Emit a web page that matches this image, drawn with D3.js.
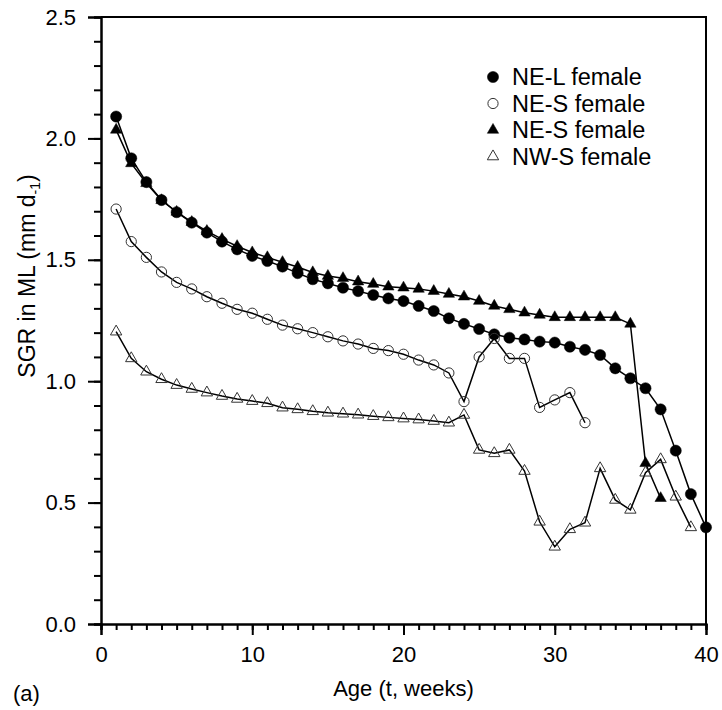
<!DOCTYPE html>
<html>
<head>
<meta charset="utf-8">
<script src="https://cdn.jsdelivr.net/npm/d3@7"></script>
<style>
  body { margin: 0; background: #fff; }
  text { font-family: "Liberation Sans", Arial, sans-serif; fill: #000; }
</style>
</head>
<body>
<div id="chart"></div>
<script>
// data (SGR in ML, mm d-1, per week of age)
const weeksNEL = [1,2,3,4,5,6,7,8,9,10,11,12,13,14,15,16,17,18,19,20,21,22,23,24,25,26,27,28,29,30,31,32,33,34,35,36,37,38,39,40];
const sgrNEL = [2.09,1.918,1.82,1.746,1.696,1.653,1.612,1.575,1.543,1.516,1.495,1.472,1.445,1.42,1.403,1.385,1.371,1.355,1.341,1.33,1.31,1.289,1.259,1.236,1.215,1.193,1.179,1.172,1.163,1.159,1.142,1.129,1.108,1.053,1.012,0.971,0.884,0.714,0.535,0.398];

const weeksNESopen = [1,2,3,4,5,6,7,8,9,10,11,12,13,14,15,16,17,18,19,20,21,22,23,24,25,26,27,28,29,30,31,32];
const sgrNESopen = [1.709,1.575,1.51,1.45,1.407,1.38,1.348,1.321,1.296,1.28,1.255,1.231,1.216,1.2,1.183,1.166,1.153,1.135,1.126,1.111,1.087,1.067,1.034,0.916,1.1,1.176,1.094,1.094,0.892,0.923,0.953,0.829];

const weeksNESfilled = [1,2,3,4,5,6,7,8,9,10,11,12,13,14,15,16,17,18,19,20,21,22,23,24,25,26,27,28,29,30,31,32,33,34,35,36,37];
const sgrNESfilled = [2.035,1.897,1.815,1.745,1.697,1.655,1.618,1.585,1.556,1.53,1.51,1.49,1.47,1.448,1.433,1.424,1.41,1.4,1.389,1.385,1.38,1.371,1.359,1.348,1.33,1.31,1.296,1.282,1.273,1.263,1.263,1.263,1.263,1.263,1.236,0.662,0.518];

const weeksNWS = [1,2,3,4,5,6,7,8,9,10,11,12,13,14,15,16,17,18,19,20,21,22,23,24,25,26,27,28,29,30,31,32,33,34,35,36,37,38,39];
const sgrNWS = [1.204,1.094,1.039,1.008,0.984,0.968,0.953,0.939,0.927,0.918,0.909,0.891,0.884,0.876,0.87,0.866,0.862,0.856,0.851,0.846,0.842,0.836,0.829,0.861,0.717,0.703,0.717,0.63,0.421,0.318,0.39,0.417,0.641,0.511,0.47,0.623,0.678,0.524,0.398];

const legendLabels = ["NE-L female", "NE-S female", "NE-S female", "NW-S female"];
const xTicks = [0, 10, 20, 30, 40];
const yTicks = [0.0, 0.5, 1.0, 1.5, 2.0, 2.5];

// chart dimensions
const chartWidth = 722;
const chartHeight = 710;
const margin = { top: 17, right: 16, bottom: 86, left: 101 };
const width = chartWidth - margin.left - margin.right;
const height = chartHeight - margin.top - margin.bottom;

const svg = d3
  .select("#chart")
  .append("svg")
  .attr("width", chartWidth)
  .attr("height", chartHeight);

const g = svg
  .append("g")
  .attr("transform", `translate(${margin.left}, ${margin.top})`);

// scales
const x = d3.scaleLinear().domain([0, 40]).range([0, width]);
const y = d3.scaleLinear().domain([0, 2.5]).range([height, 0]);

const styleAxis = (sel) => {
  sel.select(".domain").attr("stroke-width", 2);
  sel.selectAll(".tick line").attr("stroke-width", 2);
  sel.selectAll("text").style("font-size", "22px").style("font-family", "Liberation Sans, Arial, sans-serif");
};

// minor ticks
g.append("g")
  .attr("transform", `translate(0, ${height})`)
  .call(d3.axisBottom(x).ticks(40).tickSize(6).tickFormat(""))
  .call(styleAxis);

g.append("g")
  .call(d3.axisLeft(y).ticks(25).tickSize(7).tickFormat(""))
  .call(styleAxis);

// major ticks with labels
g.append("g")
  .attr("transform", `translate(0, ${height})`)
  .call(d3.axisBottom(x).tickValues(xTicks).tickSize(11).tickPadding(11).tickFormat(d3.format("d")))
  .call(styleAxis);

g.append("g")
  .call(d3.axisLeft(y).tickValues(yTicks).tickSize(13).tickPadding(12).tickFormat(d3.format(".1f")))
  .call(styleAxis);

// top and right frame
g.append("path")
  .attr("d", `M0,0H${width}V${height}`)
  .attr("fill", "none")
  .attr("stroke", "#000")
  .attr("stroke-width", 2);

// axis titles
g.append("text")
  .attr("x", width / 2)
  .attr("y", height + 72)
  .attr("text-anchor", "middle")
  .style("font-size", "22px")
  .text("Age (t, weeks)");

const yTitle = svg
  .append("text")
  .attr("transform", `translate(35, 276) rotate(-90)`)
  .attr("text-anchor", "middle")
  .style("font-size", "23px");
yTitle.append("tspan").text("SGR in ML (mm d");
yTitle.append("tspan").attr("dy", 5).style("font-size", "14px").text("-1");
yTitle.append("tspan").attr("dy", -5).text(")");

svg
  .append("text")
  .attr("x", 13)
  .attr("y", 701)
  .style("font-size", "22px")
  .text("(a)");

// series
const series = [
  { weeks: weeksNEL, values: sgrNEL, shape: d3.symbolCircle, size: 98, filled: true },
  { weeks: weeksNESopen, values: sgrNESopen, shape: d3.symbolCircle, size: 82, filled: false },
  { weeks: weeksNESfilled, values: sgrNESfilled, shape: d3.symbolTriangle, size: 56, filled: true },
  { weeks: weeksNWS, values: sgrNWS, shape: d3.symbolTriangle, size: 56, filled: false },
];

const line = d3
  .line()
  .x((d) => x(d[0]))
  .y((d) => y(d[1]));

series.forEach((s) => {
  const points = s.weeks.map((w, i) => [w, s.values[i]]);

  g.append("path")
    .datum(points)
    .attr("d", line)
    .attr("fill", "none")
    .attr("stroke", "#000")
    .attr("stroke-width", 1.5);

  g.selectAll(null)
    .data(points)
    .enter()
    .append("path")
    .attr("transform", (d) => `translate(${x(d[0])}, ${y(d[1])})`)
    .attr("d", d3.symbol().type(s.shape).size(s.size))
    .attr("fill", s.filled ? "#000" : "none")
    .attr("stroke", s.filled ? "#000" : "#333")
    .attr("stroke-width", s.filled ? 0.5 : 1);
});

// legend
const legend = svg.append("g").attr("transform", "translate(493, 77)");

legendLabels.forEach((label, i) => {
  const s = series[i];
  const row = legend.append("g").attr("transform", `translate(0, ${i * 26.5})`);
  row
    .append("path")
    .attr("d", d3.symbol().type(s.shape).size(s.size))
    .attr("fill", s.filled ? "#000" : "none")
    .attr("stroke", s.filled ? "#000" : "#333")
    .attr("stroke-width", s.filled ? 0.5 : 1);
  row
    .append("text")
    .attr("x", 19)
    .attr("dy", "0.36em")
    .style("font-size", "23.5px")
    .text(label);
});
</script>
</body>
</html>
